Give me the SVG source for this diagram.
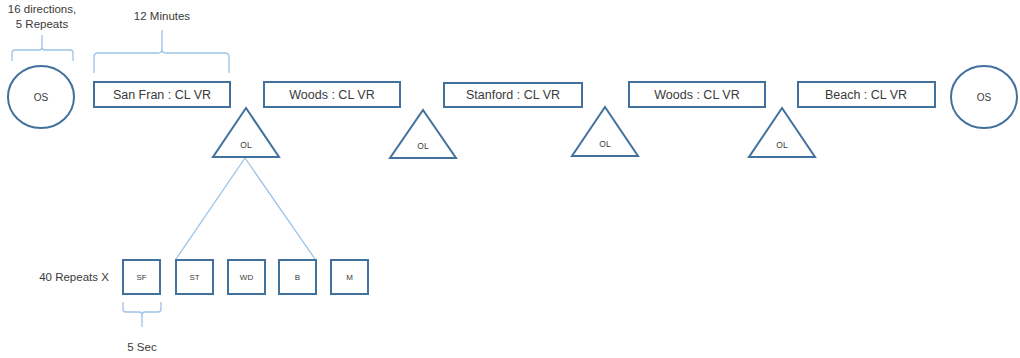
<svg xmlns="http://www.w3.org/2000/svg" width="1020" height="358" viewBox="0 0 1020 358">
  <style>
    .shape { fill: #ffffff; stroke: #41719c; stroke-width: 2; }
    .thin { fill: none; stroke: #9dc3e6; stroke-width: 1.3; }
    text { font-family: "Liberation Sans", Arial, sans-serif; fill: #3a3a3a; text-anchor: middle; dominant-baseline: central; }
    .lbl { font-size: 12.5px; }
    .note { font-size: 11.5px; }
    .small { font-size: 8px; }
    .tri { font-size: 8.5px; }
    .mid { font-size: 10px; }
  </style>
  <rect width="1020" height="358" fill="#ffffff"/>

  <!-- connectors and braces -->
  <g id="connectors">
    <path class="thin" d="M12,61 V53 Q12,50 15,50 H39 Q42,50 42,47 V35 M42,47 Q42,50 45,50 H70 Q73,50 73,53 V61"/>
    <path class="thin" d="M94,73 V57 Q94,53 98,53 H158 Q162,53 162,49 V30 M162,49 Q162,53 166,53 H225 Q229,53 229,57 V73"/>
    <path class="thin" d="M123,302 V309 Q123,312 126,312 H139 Q142,312 142,315 V327 M142,315 Q142,312 145,312 H158 Q161,312 161,309 V302"/>
    <line class="thin" x1="245" y1="158" x2="176" y2="259"/>
    <line class="thin" x1="245" y1="158" x2="315" y2="259"/>
  </g>

  <g id="notes">
    <text class="note" x="42" y="9">16 directions,</text>
    <text class="note" x="42" y="24">5 Repeats</text>
    <text class="note" x="162" y="16">12 Minutes</text>
    <text class="note" x="74" y="277">40 Repeats X</text>
    <text class="note" x="142" y="347">5 Sec</text>
  </g>

  <g id="os-start">
    <ellipse class="shape" cx="41" cy="97" rx="33" ry="31"/>
    <text class="mid" x="41" y="97">OS</text>
  </g>
  <g id="san-fran">
    <rect class="shape" x="94" y="82" width="136" height="25"/>
    <text class="lbl" x="162" y="95">San Fran : CL VR</text>
  </g>
  <g id="woods-1">
    <rect class="shape" x="264" y="82" width="136" height="25"/>
    <text class="lbl" x="332" y="95">Woods : CL VR</text>
  </g>
  <g id="stanford">
    <rect class="shape" x="444" y="83" width="138" height="24"/>
    <text class="lbl" x="513" y="95">Stanford : CL VR</text>
  </g>
  <g id="woods-2">
    <rect class="shape" x="629" y="82" width="136" height="25"/>
    <text class="lbl" x="697" y="95">Woods : CL VR</text>
  </g>
  <g id="beach">
    <rect class="shape" x="798" y="82" width="137" height="25"/>
    <text class="lbl" x="866" y="95">Beach : CL VR</text>
  </g>
  <g id="os-end">
    <ellipse class="shape" cx="984" cy="97" rx="33" ry="31"/>
    <text class="mid" x="984" y="97">OS</text>
  </g>

  <g id="ol-1">
    <polygon class="shape" points="246,108 279,157 213,157"/>
    <text class="tri" x="246" y="145">OL</text>
  </g>
  <g id="ol-2">
    <polygon class="shape" points="423,110 456,158 390,158"/>
    <text class="tri" x="423" y="146">OL</text>
  </g>
  <g id="ol-3">
    <polygon class="shape" points="605,107 638,156 572,156"/>
    <text class="tri" x="605" y="144">OL</text>
  </g>
  <g id="ol-4">
    <polygon class="shape" points="782,108 815,157 749,157"/>
    <text class="tri" x="782" y="145">OL</text>
  </g>

  <g id="sf">
    <rect class="shape" x="123" y="260" width="37" height="34"/>
    <text class="small" x="141.5" y="277">SF</text>
  </g>
  <g id="st">
    <rect class="shape" x="176" y="260" width="37" height="34"/>
    <text class="small" x="194.5" y="277">ST</text>
  </g>
  <g id="wd">
    <rect class="shape" x="228" y="260" width="37" height="34"/>
    <text class="small" x="246.5" y="277">WD</text>
  </g>
  <g id="b">
    <rect class="shape" x="279" y="260" width="37" height="34"/>
    <text class="small" x="297.5" y="277">B</text>
  </g>
  <g id="m">
    <rect class="shape" x="331" y="260" width="37" height="34"/>
    <text class="small" x="349.5" y="277">M</text>
  </g>
</svg>
